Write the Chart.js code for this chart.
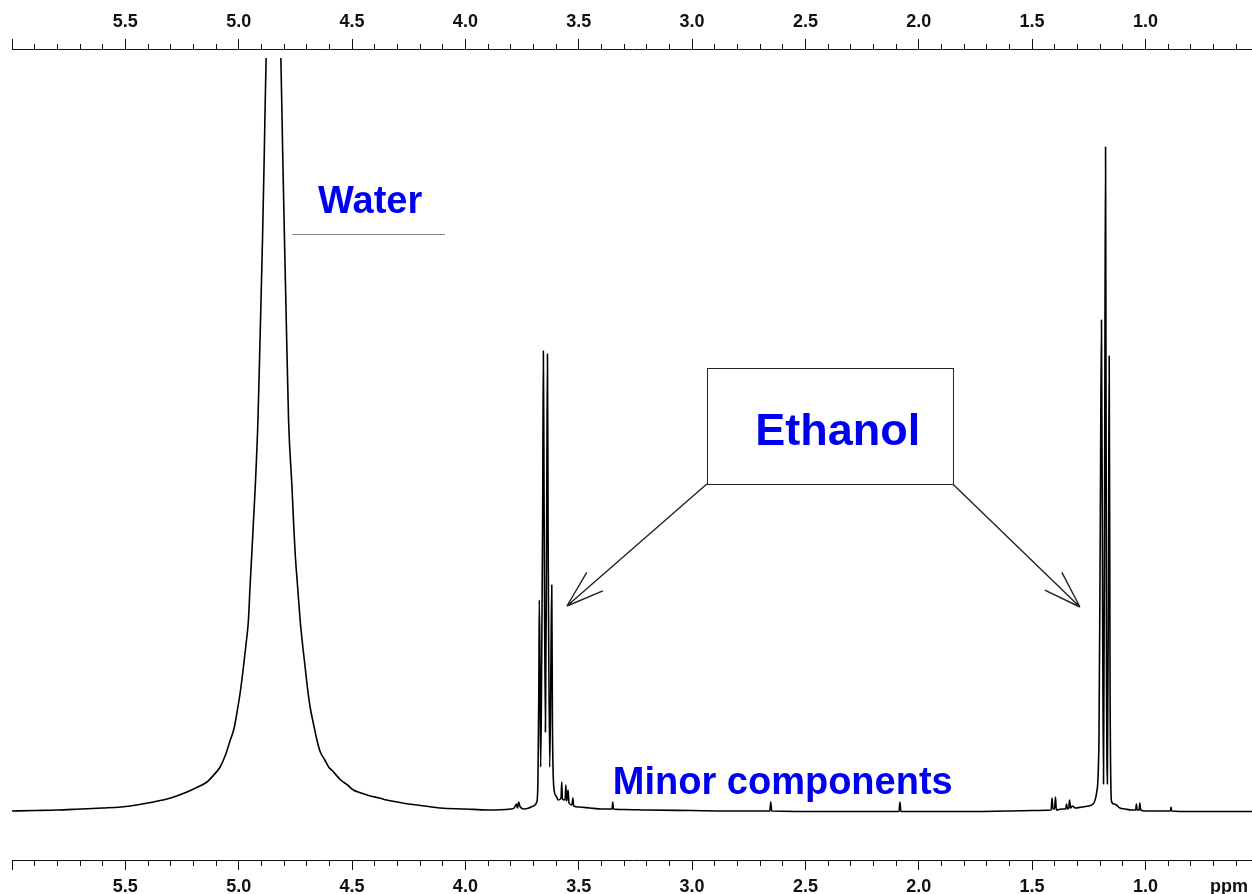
<!DOCTYPE html>
<html>
<head>
<meta charset="utf-8">
<title>1H NMR</title>
<script src="https://cdn.jsdelivr.net/npm/chart.js@4.4.1/dist/chart.umd.min.js"></script>
<style>
  html, body { margin: 0; padding: 0; background: #fff; overflow: hidden; }
  canvas { display: block; }
</style>
</head>
<body>
<canvas id="espectro" width="1252" height="894"></canvas>
<script>
// chemical shift (ppm) / intensity, low field first

// baseline + water peak (top is cut off in the original)
const waterPpm = [6.00, 5.90, 5.80, 5.70, 5.60, 5.52, 5.45, 5.376, 5.30, 5.228, 5.19, 5.14, 5.11, 5.082,
  5.06, 5.037, 5.02, 5.008, 4.993, 4.979, 4.968, 4.957, 4.950, 4.942, 4.935, 4.927, 4.915, 4.905,
  4.895, 4.887, 4.879, 4.847, 4.814, 4.806, 4.798, 4.789, 4.780, 4.765, 4.758, 4.751, 4.740, 4.729,
  4.718, 4.707, 4.696, 4.685, 4.670, 4.655, 4.640, 4.62, 4.60, 4.59, 4.55, 4.52, 4.494, 4.46, 4.42,
  4.38, 4.347, 4.30, 4.25, 4.18, 4.112, 4.00, 3.90, 3.80,
  3.785, 3.775, 3.770, 3.765, 3.758, 3.74, 3.72, 3.70];
const waterInt = [1, 1.5, 2, 3, 4, 5, 7, 10, 14, 20, 24, 30, 37, 45,
  56, 72, 84, 99, 120, 145, 167, 192, 225, 259, 290, 325, 392, 480,
  572, 660, 754, 838, 754, 660, 572, 480, 392, 325, 290, 259, 225, 192,
  167, 145, 123, 105, 88, 72, 60, 52, 44, 42, 32, 27, 22, 19, 16,
  14, 12, 10, 8, 6, 4, 3, 2, 3,
  4, 8, 4, 10, 5, 3, 4, 6];

// ethanol CH2 quartet + satellites
const ch2Ppm = [3.685, 3.680, 3.676, 3.674, 3.671, 3.668, 3.664, 3.659, 3.656, 3.653, 3.647, 3.641, 3.638,
  3.635, 3.628, 3.623, 3.619, 3.616, 3.610, 3.600, 3.590, 3.578, 3.575, 3.572, 3.560, 3.557, 3.553,
  3.547, 3.543, 3.530, 3.526, 3.522, 3.50, 3.45];
const ch2Int = [10, 30, 120, 212, 150, 45, 130, 300, 461, 320, 80, 310, 458,
  280, 45, 140, 227, 90, 25, 16, 12, 14, 30, 13, 12, 27, 11,
  22, 9, 7, 14, 6, 5, 4];

// minor components between the two ethanol signals
const minorPpm = [3.40, 3.353, 3.350, 3.347, 3.30, 3.20, 3.00, 2.80, 2.657, 2.653, 2.649, 2.40, 2.20,
  2.087, 2.083, 2.079, 1.80, 1.60, 1.50, 1.416, 1.412, 1.408, 1.401, 1.397, 1.393, 1.37, 1.352,
  1.348, 1.344, 1.338, 1.335, 1.330, 1.322, 1.31, 1.28, 1.25];
const minorInt = [3, 3, 10, 3, 2.5, 2, 1.5, 1, 1, 10, 1, 0.5, 0.5,
  0.5, 10, 0.5, 0.5, 1, 1.5, 2, 14, 3, 3, 15, 2, 3, 3,
  8, 3, 4, 12, 4, 6, 4, 5, 6];

// ethanol CH3 triplet and the high field end
const ch3Ppm = [1.231, 1.215, 1.205, 1.199, 1.194, 1.189, 1.185, 1.180, 1.176, 1.172, 1.168, 1.163, 1.160,
  1.156, 1.150, 1.140, 1.128, 1.113, 1.09, 1.06, 1.043, 1.040, 1.037, 1.028, 1.025, 1.021, 1.00,
  0.95, 0.89, 0.887, 0.884, 0.80, 0.70, 0.53];
const ch3Int = [8, 20, 74, 300, 492, 200, 28, 340, 665, 160, 28, 250, 456,
  120, 11, 8, 7, 4, 3, 2, 2, 8, 2, 2, 9, 2, 1,
  1, 1, 5, 1, 0.5, 0.5, 0.5];

// axis
const majorTicks = [6.0, 5.5, 5.0, 4.5, 4.0, 3.5, 3.0, 2.5, 2.0, 1.5, 1.0];
const tickLabels = ['', '5.5', '5.0', '4.5', '4.0', '3.5', '3.0', '2.5', '2.0', '1.5', '1.0'];

function toPoints(ppm, val) {
  return ppm.map((p, i) => ({ x: p, y: val[i] }));
}

const spectrum = [].concat(
  toPoints(waterPpm, waterInt),
  toPoints(ch2Ppm, ch2Int),
  toPoints(minorPpm, minorInt),
  toPoints(ch3Ppm, ch3Int)
).sort((a, b) => b.x - a.x);

const allTicks = [];
for (let t = 60; t >= 6; t--) allTicks.push(t / 10);

function majorIndex(v) {
  return majorTicks.findIndex(m => Math.abs(m - v) < 1e-6);
}

const fuente = '"Liberation Sans", Arial, Helvetica, sans-serif';

function ejeX(pos) {
  return {
    type: 'linear',
    position: pos,
    reverse: true,
    min: 0.53,
    max: 6.0,
    afterBuildTicks: s => { s.ticks = allTicks.map(v => ({ value: v })); },
    afterFit: s => { s.height = pos === 'top' ? 49 : 34; },
    border: { display: true, color: '#111', width: 1 },
    grid: {
      drawOnChartArea: false,
      drawTicks: true,
      tickLength: 10,
      tickColor: '#111',
      tickWidth: 1,
      tickBorderDash: ctx => {
        if (!ctx.tick || majorIndex(ctx.tick.value) >= 0) return [];
        return pos === 'top' ? [0, 5, 5] : [5, 5];
      }
    },
    ticks: {
      autoSkip: false,
      maxRotation: 0,
      padding: 6,
      color: '#111',
      font: { family: fuente, size: 18, weight: 'bold' },
      callback: v => {
        const i = majorIndex(v);
        return i >= 0 ? tickLabels[i] : '';
      }
    }
  };
}

// labels, box and arrows, placed in ppm / intensity units
const notas = {
  id: 'notas',
  afterDraw(chart) {
    const { ctx, scales: { x, y } } = chart;
    const px = v => x.getPixelForValue(v);
    const py = v => y.getPixelForValue(v);
    ctx.save();

    ctx.fillStyle = '#0000f0';
    ctx.textAlign = 'center';
    ctx.textBaseline = 'alphabetic';
    ctx.font = 'bold 38px ' + fuente;
    ctx.fillText('Water', px(4.42), py(599));
    ctx.fillText('Minor components', px(2.60), py(18));
    ctx.font = 'bold 45px ' + fuente;
    ctx.fillText('Ethanol', px(2.357), py(367));

    // line under "Water"
    ctx.strokeStyle = '#8a8a8a';
    ctx.lineWidth = 1;
    ctx.beginPath();
    ctx.moveTo(px(4.764), py(578) + 0.5);
    ctx.lineTo(px(4.090), py(578) + 0.5);
    ctx.stroke();

    // box round "Ethanol"
    ctx.strokeStyle = '#222';
    const bx1 = px(2.935), bx2 = px(1.850), by1 = py(444), by2 = py(328);
    ctx.strokeRect(Math.round(bx1) + 0.5, Math.round(by1) + 0.5, bx2 - bx1, by2 - by1);

    // arrows from the box corners to the two signals
    ctx.lineWidth = 1.4;
    const flecha = (x0, y0, x1, y1) => {
      ctx.beginPath();
      ctx.moveTo(x0, y0);
      ctx.lineTo(x1, y1);
      const a = Math.atan2(y0 - y1, x0 - x1);
      for (const d of [-0.32, 0.32]) {
        ctx.moveTo(x1, y1);
        ctx.lineTo(x1 + 39 * Math.cos(a + d), y1 + 39 * Math.sin(a + d));
      }
      ctx.stroke();
    };
    flecha(bx1, by2, px(3.552), py(206));
    flecha(bx2, by2, px(1.289), py(205));

    // unit label at the right end of the bottom axis
    ctx.fillStyle = '#111';
    ctx.font = 'bold 18px ' + fuente;
    ctx.textAlign = 'left';
    ctx.textBaseline = 'middle';
    ctx.fillText('ppm', px(0.715), x.top + 10 + 6 + 10.8);

    ctx.restore();
  }
};

new Chart(document.getElementById('espectro'), {
  type: 'line',
  data: {
    datasets: [{
      data: spectrum,
      borderColor: '#000',
      borderWidth: 1.6,
      borderJoinStyle: 'round',
      pointRadius: 0,
      cubicInterpolationMode: 'monotone',
      fill: false,
      clip: { left: 0, top: -9, right: 0, bottom: 0 }
    }]
  },
  options: {
    responsive: false,
    animation: false,
    events: [],
    layout: { padding: { left: 12, right: 0, top: 0, bottom: 0 } },
    plugins: { legend: { display: false }, tooltip: { enabled: false } },
    scales: {
      x: ejeX('bottom'),
      xTop: ejeX('top'),
      y: { type: 'linear', display: false, min: -48, max: 763 }
    }
  },
  plugins: [notas]
});
</script>
</body>
</html>
